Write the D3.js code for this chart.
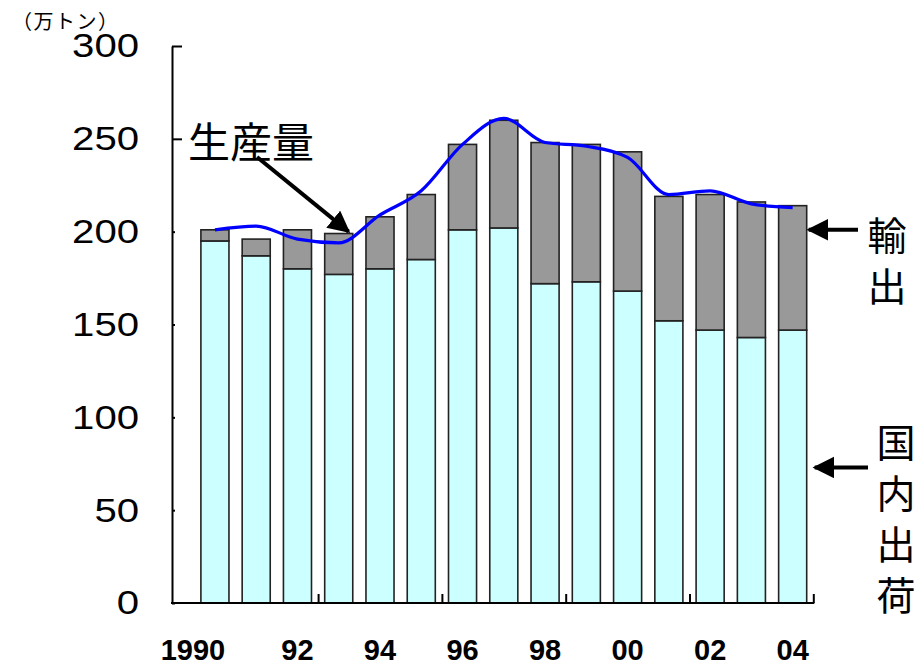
<!DOCTYPE html>
<html>
<head>
<meta charset="utf-8">
<script src="https://cdn.jsdelivr.net/npm/d3@7"></script>
<style>
  body { margin: 0; background: #fff; }
  svg { display: block; }
  .num { font-family: "Liberation Sans", Arial, sans-serif; fill: #000; }
  .jp { font-family: "Noto Sans CJK JP", sans-serif; fill: #000; }
  .vert { writing-mode: vertical-rl; }
</style>
</head>
<body>
<div id="chart"></div>
<script>
// data (万トン)
var years      = [1990, 1991, 1992, 1993, 1994, 1995, 1996, 1997, 1998, 1999, 2000, 2001, 2002, 2003, 2004];
var domestic   = [195, 187, 180, 177, 180, 185, 201, 202, 172, 173, 168, 152, 147, 143, 147];
var exports    = [6, 9, 21, 22, 28, 35, 46, 58, 76, 74, 75, 67, 73, 73, 67];
var production = [201, 203, 196, 194, 209, 222, 247, 261, 248, 246, 240, 220, 222, 215, 213];

var y_ticks      = [0, 50, 100, 150, 200, 250, 300];
var label_years  = [1990, 1992, 1994, 1996, 1998, 2000, 2002, 2004];
var label_texts  = ['1990', '92', '94', '96', '98', '00', '02', '04'];
var unit_label   = '（万トン）';

// chart params
var width  = 918;
var height = 668;
var plot_left   = 172;
var band_left   = 194.3;
var plot_right  = 813.3;
var plot_top    = 46;
var plot_bottom = 603;

var domestic_color = '#ccffff';
var export_color   = '#999999';
var line_color     = '#0000ff';

var svg = d3.select('#chart')
    .append('svg')
    .attr('width', width)
    .attr('height', height);

// scales
var x_scale = d3.scaleBand()
    .domain(years)
    .range([band_left, plot_right])
    .paddingInner(0.32)
    .paddingOuter(0.16);

var x_index = d3.scaleLinear()
    .domain([0, years.length])
    .range([band_left, plot_right]);

var y_scale = d3.scaleLinear()
    .domain([0, 300])
    .range([plot_bottom, plot_top]);

var rows = years.map(function(yr, i) {
    return {year: yr, domestic: domestic[i], exports: exports[i], production: production[i]};
});

var stack_data = d3.stack().keys(['domestic', 'exports'])(rows);
var colors = [domestic_color, export_color];

// bars
var groups = svg.selectAll('g.series')
    .data(stack_data)
    .enter()
    .append('g')
    .attr('class', 'series')
    .style('fill', function(d, i) { return colors[i]; });

groups.selectAll('rect')
    .data(function(d) { return d; })
    .enter()
    .append('rect')
    .attr('x', function(d) { return x_scale(d.data.year); })
    .attr('y', function(d) { return y_scale(d[1]); })
    .attr('width', x_scale.bandwidth())
    .attr('height', function(d) { return y_scale(d[0]) - y_scale(d[1]); })
    .attr('stroke', '#222')
    .attr('stroke-width', 1.6);

// production line
var line = d3.line()
    .x(function(d) { return x_scale(d.year) + x_scale.bandwidth() / 2; })
    .y(function(d) { return y_scale(d.production); })
    .curve(d3.curveMonotoneX);

svg.append('path')
    .datum(rows)
    .attr('fill', 'none')
    .attr('stroke', line_color)
    .attr('stroke-width', 3.2)
    .attr('stroke-linejoin', 'round')
    .attr('d', line);

// y axis
var y_axis = d3.axisLeft(y_scale)
    .tickValues(y_ticks)
    .tickSizeInner(-10)
    .tickSizeOuter(0)
    .tickPadding(33);

var y_g = svg.append('g')
    .attr('transform', 'translate(' + plot_left + ',0)')
    .call(y_axis);

y_g.select('.domain').attr('stroke', '#000').attr('stroke-width', 2);
y_g.selectAll('.tick line')
    .attr('stroke', '#000')
    .attr('stroke-width', 2)
    .attr('x2', function(d) { return d >= 250 ? 10 : 3; });
y_g.selectAll('.tick text')
    .attr('class', 'num')
    .attr('font-size', 34)
    .attr('transform', 'scale(1.18,1)')
    .attr('x', -33 / 1.18);

// x axis baseline + inner ticks every 3 categories
svg.append('line')
    .attr('x1', plot_left - 1)
    .attr('x2', plot_right + 1)
    .attr('y1', plot_bottom)
    .attr('y2', plot_bottom)
    .attr('stroke', '#000')
    .attr('stroke-width', 2);

var x_axis = d3.axisTop(x_index)
    .tickValues([3, 6, 9, 12, 15])
    .tickSize(9)
    .tickFormat('');

var x_g = svg.append('g')
    .attr('transform', 'translate(0,' + plot_bottom + ')')
    .call(x_axis);
x_g.select('.domain').remove();
x_g.selectAll('.tick line').attr('stroke', '#000').attr('stroke-width', 2);

// x labels
svg.selectAll('text.xlab')
    .data(label_years)
    .enter()
    .append('text')
    .attr('class', 'num xlab')
    .attr('x', function(d, i) {
        var cx = x_scale(d) + x_scale.bandwidth() / 2;
        return i === 0 ? cx - 22 : cx;
    })
    .attr('y', 660)
    .attr('text-anchor', 'middle')
    .attr('font-size', 29)
    .attr('font-weight', 'bold')
    .text(function(d, i) { return label_texts[i]; });

// unit label
svg.append('text')
    .attr('class', 'jp')
    .attr('x', 12)
    .attr('y', 29)
    .attr('font-size', 20)
    .attr('letter-spacing', 1.5)
    .text(unit_label);

// arrow marker
svg.append('defs').append('marker')
    .attr('id', 'head')
    .attr('viewBox', '0 0 10 10')
    .attr('refX', 9)
    .attr('refY', 5)
    .attr('markerWidth', 5.5)
    .attr('markerHeight', 5.5)
    .attr('orient', 'auto')
    .append('path')
    .attr('d', 'M0,0 L10,5 L0,10 Z')
    .attr('fill', '#000');

function arrow(x1, y1, x2, y2) {
    svg.append('line')
        .attr('x1', x1).attr('y1', y1)
        .attr('x2', x2).attr('y2', y2)
        .attr('stroke', '#000')
        .attr('stroke-width', 4)
        .attr('marker-end', 'url(#head)');
}

// 生産量
svg.append('text')
    .attr('class', 'jp')
    .attr('x', 188)
    .attr('y', 158)
    .attr('font-size', 42)
    .text('生産量');
arrow(257, 157, x_scale(1993) + x_scale.bandwidth() * 0.85, y_scale(200));

// 輸出
var right_x = x_scale(2004) + x_scale.bandwidth();
arrow(858, y_scale(201), right_x + 2, y_scale(201));
svg.append('text')
    .attr('class', 'jp vert')
    .attr('x', 887)
    .attr('y', 216)
    .attr('font-size', 39)
    .attr('letter-spacing', 12)
    .text('輸出');

// 国内出荷
arrow(868, y_scale(73), right_x + 8, y_scale(73));
svg.append('text')
    .attr('class', 'jp vert')
    .attr('x', 896)
    .attr('y', 423)
    .attr('font-size', 39)
    .attr('letter-spacing', 12)
    .text('国内出荷');
</script>
</body>
</html>
